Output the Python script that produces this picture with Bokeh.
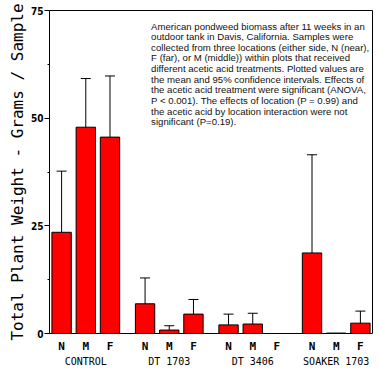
from bokeh.plotting import figure
from bokeh.models import (FactorRange, Range1d, ColumnDataSource, Whisker, TeeHead, FixedTicker,
                          LinearAxis, CategoricalAxis)
from bokeh.core.properties import value
from bokeh.embed import file_html
from bokeh.resources import INLINE

groups = ["CONTROL", "DT 1703", "DT 3406", "SOAKER 1703"]
locations = ["N", "M", "F"]
means = [23.5, 47.9, 45.6, 6.9, 0.8, 4.5, 2.0, 2.2, 0.0, 18.7, 0.1, 2.4]
upper = [37.7, 59.2, 59.8, 12.9, 1.8, 7.9, 4.5, 4.7, None, 41.5, None, 5.2]
lower = [9.2, 36.7, 31.5, 0.8, 0.0, 0.8, 0.0, 0.0, None, 0.0, None, 0.0]
lower_cap = [True, True, True, True, False, True, False, False, False, False, False, False]
y_ticks = [0, 25, 50, 75]
note_lines = [
    "American pondweed biomass  after 11 weeks in an",
    "outdoor tank in Davis, California.  Samples were",
    "collected from three locations (either side, N (near),",
    "F (far), or M (middle)) within plots that received",
    "different acetic acid treatments. Plotted values are",
    "the mean and 95% confidence intervals.  Effects of",
    "the acetic acid treatment were significant  (ANOVA,",
    "P < 0.001). The effects of  location (P = 0.99) and",
    "the acetic acid  by location interaction were  not",
    "significant (P=0.19).",
]

GP = 0.45  # gap between groups, in bar-slot units
factors = [(g, l) for g in groups for l in locations]

p = figure(
    width=379, height=369,
    x_range=FactorRange(*factors, group_padding=GP, factor_padding=0.0, range_padding=0.0),
    y_range=Range1d(0, 75),
    output_backend="svg", toolbar_location=None,
    min_border_left=49, min_border_right=7, min_border_top=10, min_border_bottom=0,
)
p.extra_x_ranges = {"grp": FactorRange(*groups, factor_padding=GP / len(locations), range_padding=0.0)}
p.background_fill_color = "white"
p.border_fill_color = "white"
p.outline_line_color = "black"
p.outline_line_width = 1
p.xgrid.visible = False
p.ygrid.visible = False
p.xaxis.visible = False

src = ColumnDataSource(dict(x=factors, top=means))
p.vbar(x="x", top="top", width=0.8, source=src, fill_color="#ff0000", line_color="black", line_width=1)

idx_cap = [i for i in range(12) if upper[i] is not None and lower_cap[i]]
idx_nocap = [i for i in range(12) if upper[i] is not None and not lower_cap[i]]
s1 = ColumnDataSource(dict(x=[factors[i] for i in idx_cap], up=[upper[i] for i in idx_cap], lo=[lower[i] for i in idx_cap]))
s2 = ColumnDataSource(dict(x=[factors[i] for i in idx_nocap], up=[upper[i] for i in idx_nocap], lo=[lower[i] for i in idx_nocap]))
w1 = Whisker(source=s1, base="x", upper="up", lower="lo", line_color="black", line_width=1,
             upper_head=TeeHead(size=10, line_color="black", line_width=1),
             lower_head=TeeHead(size=10, line_color="black", line_width=1))
w2 = Whisker(source=s2, base="x", upper="up", lower="lo", line_color="black", line_width=1,
             upper_head=TeeHead(size=10, line_color="black", line_width=1),
             lower_head=None)
p.add_layout(w1)
p.add_layout(w2)

# location labels (N, M, F) under each bar: synthetic centres of the nested factor range
sub_pos = [gi * (len(locations) + GP) + li + 0.5 for gi in range(len(groups)) for li in range(len(locations))]
sub_axis = LinearAxis(ticker=FixedTicker(ticks=sub_pos),
                      major_label_overrides={float(x): f[1] for x, f in zip(sub_pos, factors)})
grp_axis = CategoricalAxis(x_range_name="grp")
for ax in (sub_axis, grp_axis):
    ax.axis_line_color = None
    ax.major_tick_line_color = None
    ax.minor_tick_line_color = None
    ax.major_tick_out = 0
    ax.major_tick_in = 0
    ax.minor_tick_out = 0
    ax.minor_tick_in = 0
    ax.axis_label_standoff = 0
    ax.major_label_text_font = "DejaVu Sans Mono"
    ax.major_label_text_color = "black"
sub_axis.major_label_standoff = 6
sub_axis.major_label_text_font_size = "11px"
sub_axis.major_label_text_font_style = "bold"
grp_axis.major_label_standoff = 0
grp_axis.major_label_text_font_size = "10px"
p.add_layout(sub_axis, "below")
p.add_layout(grp_axis, "below")

# note text
n = len(note_lines)
note_x = [4.2] * n
note_y = [71.4 - 2.47 * i for i in range(n)]
p.text(x=note_x, y=note_y, text=note_lines, text_font=value("Liberation Sans"),
       text_font_size="9.6px", text_baseline="middle", text_align="left", text_color="#111111")

# y axis
p.yaxis.ticker = FixedTicker(ticks=y_ticks, minor_ticks=[12.5, 37.5, 62.5])
p.yaxis.axis_label = "Total Plant Weight - Grams / Sample"
p.yaxis.axis_label_text_font = "DejaVu Sans Mono"
p.yaxis.axis_label_text_font_size = "16px"
p.yaxis.axis_label_text_font_style = "normal"
p.yaxis.axis_label_text_color = "black"
p.yaxis.axis_label_standoff = 1
p.yaxis.major_label_text_font = "DejaVu Sans Condensed"
p.yaxis.major_label_text_font_size = "10px"
p.yaxis.major_label_text_font_style = "bold"
p.yaxis.major_label_text_color = "black"
p.yaxis.major_label_standoff = 1
p.yaxis.major_tick_out = 5
p.yaxis.major_tick_in = 0
p.yaxis.minor_tick_out = 2
p.yaxis.minor_tick_in = 0
p.yaxis.axis_line_color = "black"

open("out.html", "w").write(file_html(p, INLINE))
